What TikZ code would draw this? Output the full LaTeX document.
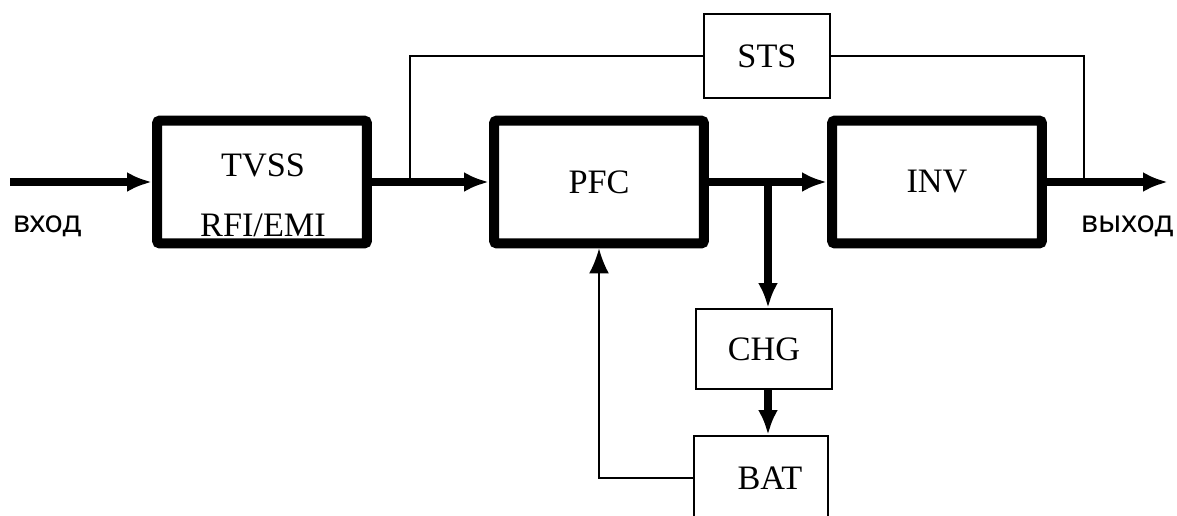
\documentclass[tikz,border=0pt]{standalone}
\usepackage{fontspec}
\setmainfont{Liberation Serif}
\newfontfamily\cyrfont{Noto Sans}
\usetikzlibrary{arrows.meta,positioning}

\begin{document}
\begin{tikzpicture}[x=0.02cm,y=-0.02cm]
\tikzset{>={Latex[length=0.5cm,width=0.4cm]}}
\tikzset{
bigbox/.style={draw,line width=0.2cm,rounded corners=0.06cm,
  minimum width=4.2cm,minimum height=2.46cm,inner sep=0pt,
  font=\fontsize{19.5}{23}\selectfont},
smallbox/.style={draw,line width=0.04cm,inner sep=0pt,
  font=\fontsize{19.5}{23}\selectfont},
thickline/.style={line width=0.16cm},
thinline/.style={line width=0.04cm},
lbl/.style={font=\fontsize{19.5}{34}\selectfont,align=center},
io/.style={font=\cyrfont\fontsize{17.5}{20}\selectfont,anchor=base}
}
\useasboundingbox (0,0) rectangle (1177,515);
\clip (0,0) rectangle (1177,515);

\coordinate (in) at (10,182);
\coordinate (out) at (1168,182);
\coordinate (j1) at (410,182);
\coordinate (j2) at (768,182);
\coordinate (j3) at (1084,182);

% main path
\node[bigbox] (tvss) at (262,182) {};
\node[lbl] (tvsstext) at (263,195) {TVSS\\RFI/EMI};
\node[bigbox] (pfc) at (599,182) {PFC};
\node[bigbox] (inv) at (937,182) {INV};

% bypass and battery
\node[smallbox,minimum width=2.52cm,minimum height=1.68cm] (sts) at (767,56) {STS};
\node[smallbox,minimum width=2.72cm,minimum height=1.6cm] (chg) at (764,349) {CHG};
\node[smallbox,minimum width=2.7cm,minimum height=1.68cm] (bat) at (761,478) {\hspace{0.36cm}BAT};

\node[io] (inlbl) at (47,232) {вход};
\node[io] (outlbl) at (1127,232) {выход};

\draw[thickline,->] (in) -- (in -| tvss.west);
\draw[thickline,->] (tvss) -- (pfc);
\draw[thickline,->] (pfc) -- (inv);
\draw[thickline,->] (inv) -- (out);
\draw[thickline,->] (j2) -- (j2 |- chg.north);
\draw[thickline,->] (j2 |- chg.south) -- (j2 |- bat.north);

\draw[thinline] (j1) |- (sts.west);
\draw[thinline] (sts.east) -| (j3);
\draw[thinline,->] (bat.west) -| (pfc.south);
\end{tikzpicture}
\end{document}
